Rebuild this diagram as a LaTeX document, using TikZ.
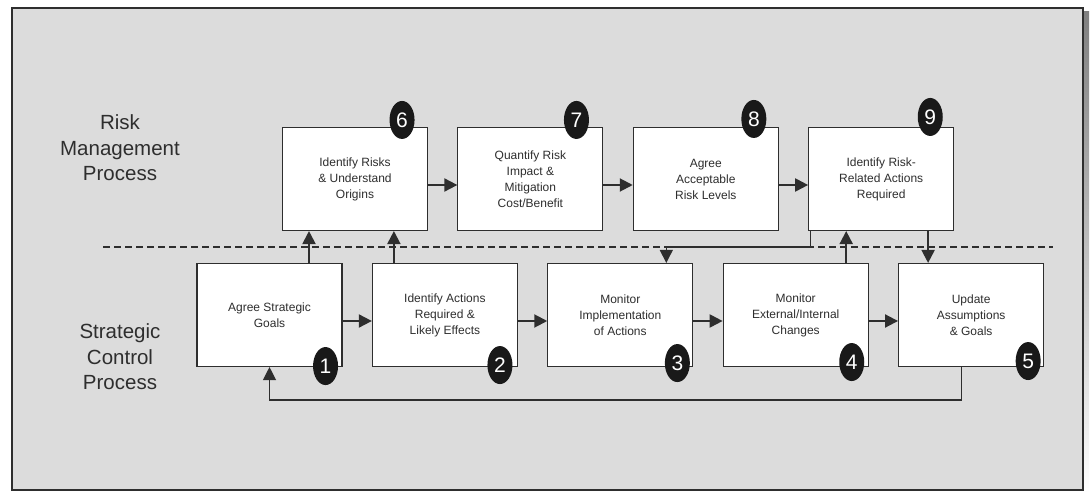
\documentclass[tikz,border=0pt]{standalone}
\usepackage{fontspec}
\setmainfont{Liberation Sans}
\usetikzlibrary{arrows.meta,positioning,shapes.geometric}

\definecolor{panel}{HTML}{DCDCDC}
\definecolor{ink}{HTML}{2E2E2E}
\definecolor{shade}{HTML}{7A7A7A}

\tikzset{
  stepbox/.style={draw=ink, line width=1.1pt, fill=white, minimum width=145pt,
                  minimum height=103pt, align=center, text=ink, inner sep=2pt,
                  font=\fontsize{12}{16}\selectfont},
  badge/.style={ellipse, fill=black!90, minimum width=25pt, minimum height=38pt,
                inner sep=0pt, text=white, font=\fontsize{21}{21}\selectfont},
  side/.style={align=center, text=ink, font=\fontsize{20.5}{25.5}\selectfont},
  flow/.style={->, line width=2pt, draw=ink},
  thinflow/.style={->, line width=1.2pt, draw=ink},
  divider/.style={line width=1.8pt, draw=ink, dash pattern=on 7pt off 4pt}
}

\begin{document}
\begin{tikzpicture}[x=1pt,y=1pt,>={Triangle[length=13pt,width=13pt]},
                    node distance=175.4pt]

  \useasboundingbox (0,0) rectangle (1090,493);

  % panel
  \fill[shade] (16,0) rectangle (1089,481);
  \draw[ink, fill=panel, line width=1.2pt] (12,3) rectangle (1083,485);

  % process labels
  \node[side] (rmp) at (120,345) {Risk\\Management\\Process};
  \node[side] (scp) at (120,136) {Strategic\\Control\\Process};

  % divider between the two processes
  \coordinate (dl) at (103,246);
  \coordinate (dr) at (1053,246);
  \draw[divider] (dl) -- (dr);

  % risk management row
  \node[stepbox] (risks) at (355,314)      {Identify Risks\\\& Understand\\Origins};
  \node[stepbox] (quant)  [right of=risks] {Quantify Risk\\Impact \&\\Mitigation\\Cost/Benefit};
  \node[stepbox] (levels) [right of=quant] {Agree\\Acceptable\\Risk Levels};
  \node[stepbox] (relact) [right of=levels] {Identify Risk-\\Related Actions\\Required};

  % strategic control row
  \node[stepbox] (agree) at (269.5,178)     {Agree Strategic\\Goals};
  \node[stepbox] (actions) [right of=agree]  {Identify Actions\\Required \&\\Likely Effects};
  \node[stepbox] (monimp) [right of=actions] {Monitor\\Implementation\\of Actions};
  \node[stepbox] (monext) [right of=monimp]  {Monitor\\External/Internal\\Changes};
  \node[stepbox] (update) [right of=monext]  {Update\\Assumptions\\\& Goals};

  % numbers
  \node[badge] (n6) at ([xshift=-26pt,yshift=7pt]risks.north east)  {6};
  \node[badge] (n7) at ([xshift=-27pt,yshift=7pt]quant.north east)  {7};
  \node[badge] (n8) at ([xshift=-25pt,yshift=8pt]levels.north east) {8};
  \node[badge] (n9) at ([xshift=-24pt,yshift=10pt]relact.north east) {9};
  \node[badge] (n1) at ([xshift=-17pt,yshift=1pt]agree.south east)   {1};
  \node[badge] (n2) at ([xshift=-18pt,yshift=2pt]actions.south east) {2};
  \node[badge] (n3) at ([xshift=-16pt,yshift=4pt]monimp.south east)  {3};
  \node[badge] (n4) at ([xshift=-17pt,yshift=5pt]monext.south east)  {4};
  \node[badge] (n5) at ([xshift=-16pt,yshift=6pt]update.south east)  {5};

  % flow along the rows
  \draw[flow] ([yshift=-6pt]risks.east)  -- ([yshift=-6pt]quant.west);
  \draw[flow] ([yshift=-6pt]quant.east)  -- ([yshift=-6pt]levels.west);
  \draw[flow] ([yshift=-6pt]levels.east) -- ([yshift=-6pt]relact.west);
  \draw[flow] ([yshift=-6pt]agree.east)   -- ([yshift=-6pt]actions.west);
  \draw[flow] ([yshift=-6pt]actions.east) -- ([yshift=-6pt]monimp.west);
  \draw[flow] ([yshift=-6pt]monimp.east)  -- ([yshift=-6pt]monext.west);
  \draw[flow] ([yshift=-6pt]monext.east)  -- ([yshift=-6pt]update.west);

  % links between the rows
  \draw[flow] ([xshift=39.5pt]agree.north) -- ([xshift=39.5pt]agree.north |- risks.south);
  \draw[flow] ([xshift=-51pt]actions.north) -- ([xshift=-51pt]actions.north |- risks.south);
  \draw[flow] ([xshift=50.5pt]monext.north) -- ([xshift=50.5pt]monext.north |- relact.south);
  \draw[flow] ([xshift=-43pt]update.north |- relact.south) -- ([xshift=-43pt]update.north);
  \draw[thinflow] ([xshift=2pt]relact.south west) |- ([xshift=46pt,yshift=16pt]monimp.north)
                  -- ([xshift=46pt]monimp.north);

  % feedback loop
  \draw[thinflow] ([xshift=-10pt]update.south) -- ++(0,-33) -| (agree.south);

\end{tikzpicture}
\end{document}
